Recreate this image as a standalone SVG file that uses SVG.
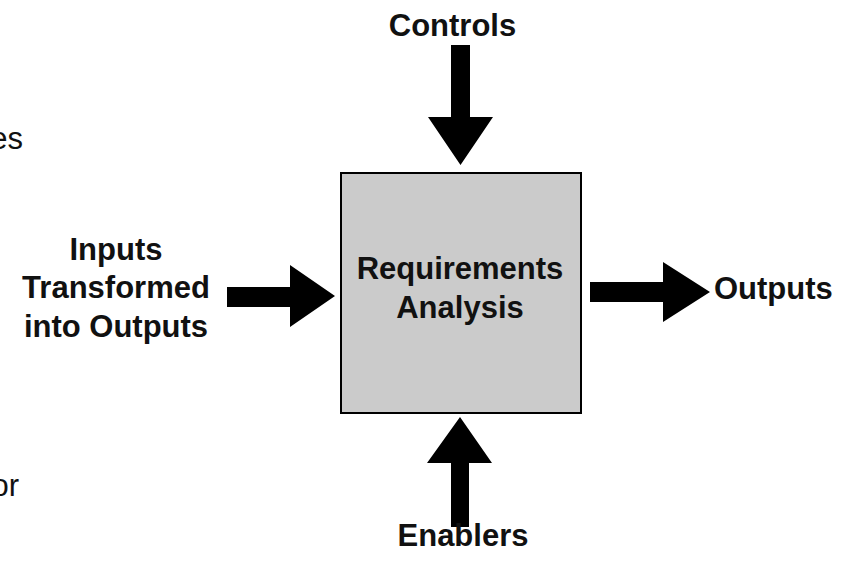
<svg xmlns="http://www.w3.org/2000/svg" width="852" height="561" viewBox="0 0 852 561">
<style>
.lbl{font-family:"Liberation Sans",Arial,sans-serif;font-size:31px;font-weight:bold;fill:#111;}
.frag{font-family:"Liberation Sans",Arial,sans-serif;font-size:31px;fill:#111;}
.arr{fill:#000;}
.box{fill:#cbcbcb;stroke:#000;stroke-width:2;}
</style>
<rect width="852" height="561" fill="#fff"/>
<g id="fragments">
<text class="frag" x="23" y="149" text-anchor="end">es</text>
<text class="frag" x="19" y="496" text-anchor="end">or</text>
</g>
<g id="connectors">
<polygon class="arr" points="451,45 470,45 470,117 493,117 460.5,165 428,117 451,117"/>
<polygon class="arr" points="451,527 469,527 469,463 492,463 460,417 427,463 451,463"/>
<polygon class="arr" points="227,287 290,287 290,265 335,296 290,327 290,307 227,307"/>
<polygon class="arr" points="590,282 663,282 663,262 710,292 663,322 663,302 590,302"/>
</g>
<g id="process">
<rect class="box" x="341" y="173" width="240" height="240"/>
<text class="lbl" x="460" y="279" text-anchor="middle">Requirements</text>
<text class="lbl" x="460" y="318" text-anchor="middle">Analysis</text>
</g>
<g id="controls">
<text class="lbl" x="452.5" y="36" text-anchor="middle">Controls</text>
</g>
<g id="inputs">
<text class="lbl" x="116" y="260" text-anchor="middle">Inputs</text>
<text class="lbl" x="116" y="298" text-anchor="middle">Transformed</text>
<text class="lbl" x="116" y="337" text-anchor="middle">into Outputs</text>
</g>
<g id="outputs">
<text class="lbl" x="714" y="299">Outputs</text>
</g>
<g id="enablers">
<text class="lbl" x="463" y="546" text-anchor="middle">Enablers</text>
</g>
</svg>
